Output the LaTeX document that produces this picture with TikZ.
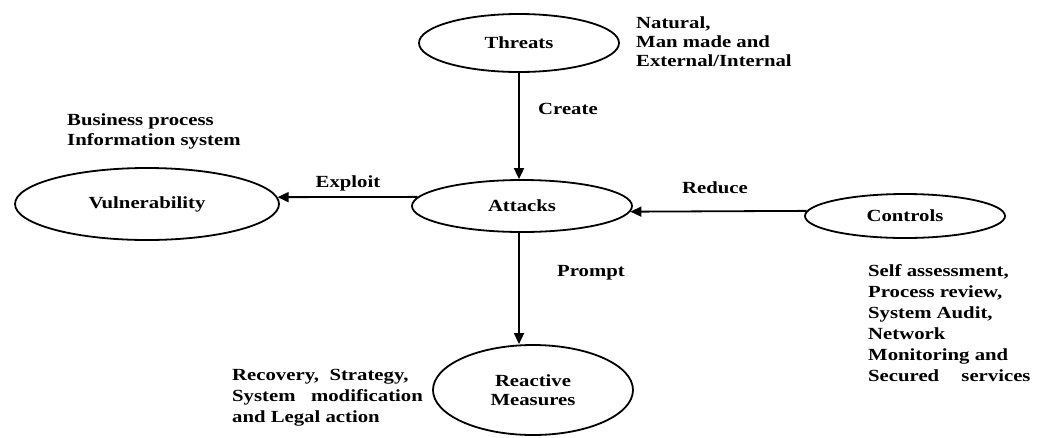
\documentclass[tikz,border=0pt]{standalone}
\usepackage{fontspec}
\setmainfont{Liberation Serif}[FakeStretch=1.22]
\usetikzlibrary{shapes.geometric,arrows.meta}
\begin{document}
\begin{tikzpicture}[x=1pt,y=-1pt,
  font=\fontsize{17}{20.5}\selectfont\bfseries,
  oval/.style={draw,ellipse,line width=1.8pt,inner sep=0pt,align=center},
  arr/.style={line width=1.8pt,-{Triangle[length=11pt,width=10pt]}},
  txt/.style={anchor=north west,align=left,inner sep=0pt},
  lbl/.style={inner sep=0pt}]
\useasboundingbox (0,0) rectangle (1040,437);

\node[oval,minimum width=200pt,minimum height=58pt] (thr) at (519,43) {Threats};
\node[oval,minimum width=220pt,minimum height=52pt] (att) at (522,206) {Attacks};
\node[oval,minimum width=264pt,minimum height=72pt] (vul) at (147,204) {Vulnerability};
\node[oval,minimum width=200pt,minimum height=44pt] (ctl) at (905,216) {Controls};
\node[oval,minimum width=200pt,minimum height=90pt] (rea) at (533,390) {Reactive\\[-2pt]Measures};

\draw[arr] (thr.south) -- (thr.south |- att.north);
\draw[arr] (thr.south |- att.south) -- (thr.south |- rea.north);
\draw[arr] (att.175) -- (vul.3);
\draw[arr] (ctl.177) -- (att.-3);

\node[lbl,anchor=west] (create) at (538,109) {Create};
\node[lbl,anchor=west] (prompt) at (557,273) {Prompt};
\node[lbl] (exploit) at (348,183) {Exploit};
\node[lbl] (reduce) at (715,188) {Reduce};

\node[txt,font=\fontsize{17}{19}\selectfont\bfseries] (nat) at (636,17) {Natural,\\Man made and\\External/Internal};
\node[txt] (bus) at (67,113) {Business process\\Information system};
\node[txt,font=\fontsize{17}{21}\selectfont\bfseries] (self) at (868,264) {Self assessment,\\Process review,\\System Audit,\\Network\\Monitoring and\\Secured\quad\ services};
\node[txt,font=\fontsize{17}{21}\selectfont\bfseries] (rec) at (232,369) {Recovery,\ \ Strategy,\\System\ \ \ modification\\and Legal action};
\end{tikzpicture}
\end{document}
